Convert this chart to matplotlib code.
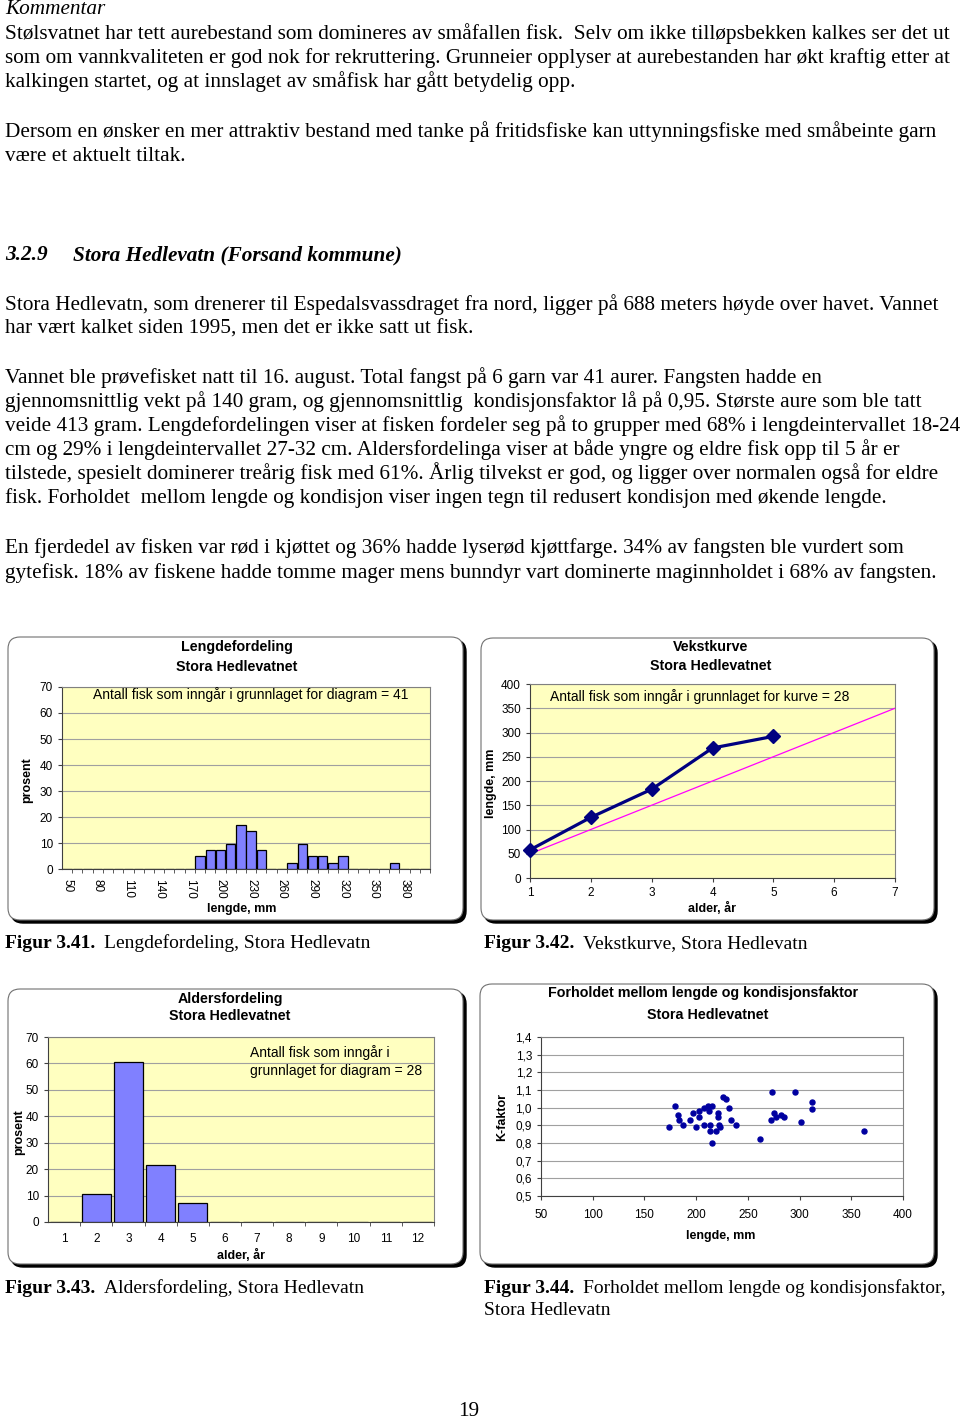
import matplotlib
matplotlib.use("Agg")
import matplotlib.pyplot as plt
from matplotlib.patches import FancyBboxPatch

# ---- data ----
len_classes = [50, 60, 70, 80, 90, 100, 110, 120, 130, 140, 150, 160, 170, 180,
               190, 200, 210, 220, 230, 240, 250, 260, 270, 280, 290, 300, 310,
               320, 330, 340, 350, 360, 370, 380, 390, 400]
len_pct = [0, 0, 0, 0, 0, 0, 0, 0, 0, 0, 0, 0, 0, 4.9,
           7.3, 7.3, 9.8, 17.1, 14.6, 7.3, 0, 0, 2.4, 9.8, 4.9, 4.9, 2.4,
           4.9, 0, 0, 0, 0, 2.4, 0, 0, 0]

growth_age = [1, 2, 3, 4, 5]
growth_len = [58, 125, 183, 268, 292]
norm_age = [1, 7]
norm_len = [50, 350]

age_classes = [1, 2, 3, 4, 5, 6, 7, 8, 9, 10, 11, 12]
age_pct = [0, 10.7, 60.7, 21.4, 7.1, 0, 0, 0, 0, 0, 0, 0]

k_len = [174, 180, 182, 183, 187, 194, 197, 200, 203, 203, 208, 208, 211, 212,
         215, 213, 213, 215, 219, 221, 221, 222, 223, 226, 229, 232, 234, 239,
         262, 272, 273, 275, 277, 282, 285, 296, 301, 312, 312, 362]
k_fak = [0.89, 1.01, 0.96, 0.93, 0.90, 0.93, 0.97, 0.89, 0.98, 0.95, 0.90, 1.00,
         1.01, 0.98, 1.01, 0.90, 0.87, 0.80, 0.87, 0.97, 0.95, 0.90, 0.89, 1.06,
         1.05, 1.00, 0.93, 0.90, 0.82, 0.93, 1.09, 0.97, 0.95, 0.96, 0.95, 1.09,
         0.92, 1.03, 0.99, 0.87]
k_ticks = [0.5, 0.6, 0.7, 0.8, 0.9, 1.0, 1.1, 1.2, 1.3, 1.4]
k_labels = ["0,5", "0,6", "0,7", "0,8", "0,9", "1,0", "1,1", "1,2", "1,3", "1,4"]

W, H = 960, 1421
YELLOW = "#FFFFC0"
BAR = "#8080FF"
GRID = "#A0A0A0"
SANS = "Liberation Sans"
SERIF = "Liberation Serif"
BODY_FS = 15.3
CAP_FS = 14.0
TITLE_FS = 10.3
NOTE_FS = 10.0

fig = plt.figure(figsize=(W / 100, H / 100), dpi=100)
fig.patch.set_facecolor("white")

# page axes in pixel coordinates (behind the charts)
page = fig.add_axes([0, 0, 1, 1], zorder=0)
page.set_xlim(0, W)
page.set_ylim(H, 0)
page.axis("off")

# overlay for chart texts (above the charts)
top = fig.add_axes([0, 0, 1, 1], zorder=5)
top.set_xlim(0, W)
top.set_ylim(H, 0)
top.axis("off")
top.patch.set_alpha(0)


def px_axes(left, t, right, bottom):
    return fig.add_axes([left / W, 1 - bottom / H, (right - left) / W, (bottom - t) / H], zorder=2)


def body(x, y, s, size=BODY_FS, **kw):
    page.text(x, y, s, family=SERIF, fontsize=size, va="baseline", ha="left", **kw)


# ---- body text ----
body(5, 14, "Kommentar", style="italic")
lines = [
    (39, "Stølsvatnet har tett aurebestand som domineres av småfallen fisk.  Selv om ikke tilløpsbekken kalkes ser det ut"),
    (63, "som om vannkvaliteten er god nok for rekruttering. Grunneier opplyser at aurebestanden har økt kraftig etter at"),
    (87, "kalkingen startet, og at innslaget av småfisk har gått betydelig opp."),
    (137, "Dersom en ønsker en mer attraktiv bestand med tanke på fritidsfiske kan uttynningsfiske med småbeinte garn"),
    (161, "være et aktuelt tiltak."),
    (310, "Stora Hedlevatn, som drenerer til Espedalsvassdraget fra nord, ligger på 688 meters høyde over havet. Vannet"),
    (334, "har vært kalket siden 1995, men det er ikke satt ut fisk."),
    (383, "Vannet ble prøvefisket natt til 16. august. Total fangst på 6 garn var 41 aurer. Fangsten hadde en"),
    (407, "gjennomsnittlig vekt på 140 gram, og gjennomsnittlig  kondisjonsfaktor lå på 0,95. Største aure som ble tatt"),
    (431, "veide 413 gram. Lengdefordelingen viser at fisken fordeler seg på to grupper med 68% i lengdeintervallet 18-24"),
    (455, "cm og 29% i lengdeintervallet 27-32 cm. Aldersfordelinga viser at både yngre og eldre fisk opp til 5 år er"),
    (479, "tilstede, spesielt dominerer treårig fisk med 61%. Årlig tilvekst er god, og ligger over normalen også for eldre"),
    (503, "fisk. Forholdet  mellom lengde og kondisjon viser ingen tegn til redusert kondisjon med økende lengde."),
    (553, "En fjerdedel av fisken var rød i kjøttet og 36% hadde lyserød kjøttfarge. 34% av fangsten ble vurdert som"),
    (578, "gytefisk. 18% av fiskene hadde tomme mager mens bunndyr vart dominerte maginnholdet i 68% av fangsten."),
]
for y, s in lines:
    body(5, y, s)
body(5, 260, "3.2.9", style="italic", weight="bold")
body(73, 260, "Stora Hedlevatn (Forsand kommune)", style="italic", weight="bold")

# captions
body(5, 948, "Figur 3.41.", size=CAP_FS, weight="bold")
body(104, 948, "Lengdefordeling, Stora Hedlevatn", size=CAP_FS)
body(484, 948, "Figur 3.42.", size=CAP_FS, weight="bold")
body(583, 948, "Vekstkurve, Stora Hedlevatn", size=CAP_FS)
body(5, 1293, "Figur 3.43.", size=CAP_FS, weight="bold")
body(104, 1293, "Aldersfordeling, Stora Hedlevatn", size=CAP_FS)
body(484, 1293, "Figur 3.44.", size=CAP_FS, weight="bold")
body(583, 1293, "Forholdet mellom lengde og kondisjonsfaktor,", size=CAP_FS)
body(484, 1315, "Stora Hedlevatn", size=CAP_FS)
page.text(469, 1416, "19", family=SERIF, fontsize=BODY_FS, va="baseline", ha="center")


# ---- chart frames (rounded box with shadow) ----
def frame(x0, y0, x1, y1):
    sh = FancyBboxPatch((x0 + 3, y0 + 3), x1 - x0, y1 - y0,
                        boxstyle="round,pad=0,rounding_size=12",
                        fc="black", ec="black", lw=1)
    bx = FancyBboxPatch((x0, y0), x1 - x0, y1 - y0,
                        boxstyle="round,pad=0,rounding_size=12",
                        fc="white", ec="#707070", lw=0.8)
    page.add_patch(sh)
    page.add_patch(bx)


frame(8, 637, 463, 920)
frame(481, 638, 934, 920)
frame(8, 989, 463, 1264)
frame(480, 984, 934, 1264)


def ctext(x, y, s, size=TITLE_FS, bold=True, ha="center", **kw):
    top.text(x, y, s, family=SANS, fontsize=size,
             weight="bold" if bold else "normal", va="center", ha=ha, **kw)


def style_axes(ax, bg=YELLOW):
    ax.set_facecolor(bg)
    for sp in ax.spines.values():
        sp.set_color("#808080")
        sp.set_linewidth(0.8)
    ax.spines["left"].set_color("#404040")
    ax.spines["bottom"].set_color("#404040")
    ax.yaxis.grid(True, color=GRID, lw=0.8)
    ax.set_axisbelow(True)
    ax.tick_params(labelsize=8.5, colors="#404040", length=3, width=0.8)
    for lab in ax.get_xticklabels() + ax.get_yticklabels():
        lab.set_family(SANS)
        lab.set_color("black")


# ---- Figure 3.41: length distribution ----
ax1 = px_axes(62, 687, 430, 869)
pos1 = list(range(len(len_classes)))
ax1.bar(pos1, len_pct, width=0.92, color=BAR, edgecolor="black", lw=0.9, zorder=3)
ax1.set_xlim(-0.5, len(len_classes) - 0.5)
ax1.set_ylim(0, 70)
ax1.set_yticks(range(0, 71, 10))
ax1.set_xticks(pos1[::3])
ax1.set_xticklabels([str(c) for c in len_classes[::3]], rotation=-90)
ax1.set_xticks([p + 0.5 for p in pos1], minor=True)
style_axes(ax1)
ax1.tick_params(axis="x", which="major", length=0, pad=7)
ax1.tick_params(axis="x", which="minor", length=3, color="#404040")
ctext(237, 647, "Lengdefordeling")
ctext(237, 667, "Stora Hedlevatnet")
ctext(251, 695, "Antall fisk som inngår i grunnlaget for diagram = 41", size=NOTE_FS, bold=False)
ctext(27, 780, "prosent", size=9, rotation=90)
ctext(242, 909, "lengde, mm", size=9)

# ---- Figure 3.42: growth curve ----
ax2 = px_axes(530, 684, 895, 878)
ax2.plot(norm_age, norm_len, color="#FF00FF", lw=0.9, zorder=3)
ax2.plot(growth_age, growth_len, color="#000080", lw=2.3, marker="D", ms=7.5,
         mfc="#000080", mec="#000080", zorder=4, clip_on=False)
ax2.set_xlim(1, 7)
ax2.set_ylim(0, 400)
ax2.set_yticks(range(0, 401, 50))
ax2.set_xticks(range(1, 8))
style_axes(ax2)
ctext(711, 647, "Vekstkurve")
ctext(711, 666, "Stora Hedlevatnet")
ctext(700, 697, "Antall fisk som inngår i grunnlaget for kurve = 28", size=NOTE_FS, bold=False)
ctext(491, 783, "lengde, mm", size=9, rotation=90)
ctext(712, 908, "alder, år", size=9)

# ---- Figure 3.43: age distribution ----
ax3 = px_axes(48, 1037, 434, 1222)
pos3 = list(range(len(age_classes)))
ax3.bar(pos3, age_pct, width=0.9, color=BAR, edgecolor="black", lw=0.9, zorder=3)
ax3.set_xlim(-0.5, len(age_classes) - 0.5)
ax3.set_ylim(0, 70)
ax3.set_yticks(range(0, 71, 10))
ax3.set_xticks(pos3)
ax3.set_xticklabels([str(a) for a in age_classes])
ax3.set_xticks([p + 0.5 for p in pos3], minor=True)
style_axes(ax3)
ax3.tick_params(axis="x", which="major", length=0, pad=8)
ax3.tick_params(axis="x", which="minor", length=3, color="#404040")
ctext(230, 999, "Aldersfordeling")
ctext(230, 1016, "Stora Hedlevatnet")
ctext(250, 1053, "Antall fisk som inngår i", size=NOTE_FS, bold=False, ha="left")
ctext(250, 1071, "grunnlaget for diagram = 28", size=NOTE_FS, bold=False, ha="left")
ctext(19, 1132, "prosent", size=9, rotation=90)
ctext(241, 1255, "alder, år", size=9)

# ---- Figure 3.44: length vs condition factor ----
ax4 = px_axes(541, 1037, 903, 1196)
ax4.plot(k_len, k_fak, ls="none", marker="o", ms=3.6, color="#0000A0", zorder=3)
ax4.set_xlim(50, 400)
ax4.set_ylim(0.5, 1.4)
ax4.set_xticks(range(50, 401, 50))
ax4.set_yticks(k_ticks)
ax4.set_yticklabels(k_labels)
style_axes(ax4, bg="white")
ax4.tick_params(axis="x", pad=6)
ctext(703, 993, "Forholdet mellom lengde og kondisjonsfaktor")
ctext(708, 1015, "Stora Hedlevatnet")
ctext(502, 1117, "K-faktor", size=9, rotation=90)
ctext(721, 1236, "lengde, mm", size=9)

fig.savefig("out.png", dpi=100)
